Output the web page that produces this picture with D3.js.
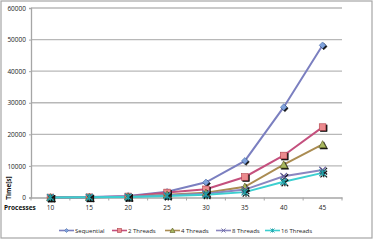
<!DOCTYPE html>
<html>
<head>
<meta charset="utf-8">
<script src="https://cdn.jsdelivr.net/npm/d3@7"></script>
<style>
body { margin: 0; background: #fff; }
svg text { font-family: "Open Sans", "Liberation Sans", sans-serif; }
</style>
</head>
<body>
<svg id="chart" width="374" height="241"></svg>
<script>
// chart data
var processes = ["10", "15", "20", "25", "30", "35", "40", "45"];
var sequential = [50, 150, 500, 1800, 4800, 11600, 28600, 48200];
var threads2 = [30, 100, 350, 1600, 2600, 6500, 13300, 22300];
var threads4 = [20, 80, 250, 900, 1500, 3400, 10400, 16800];
var threads8 = [20, 60, 200, 700, 1200, 2500, 6700, 8700];
var threads16 = [10, 50, 150, 500, 900, 1700, 5000, 7800];
var yTicks = [0, 10000, 20000, 30000, 40000, 50000, 60000];

var series = [
    {name: "Sequential", values: sequential, line: "#7b7fc0", fill: "#7fa2dc", stroke: "#4f6fa8", marker: "diamond"},
    {name: "2 Threads", values: threads2, line: "#c4507e", fill: "#ec8a8e", stroke: "#b0404a", marker: "square"},
    {name: "4 Threads", values: threads4, line: "#aa8c52", fill: "#a8b860", stroke: "#5a5a20", marker: "triangle"},
    {name: "8 Threads", values: threads8, line: "#8a86c0", fill: "#8a86c0", stroke: "#6a66a0", marker: "x"},
    {name: "16 Threads", values: threads16, line: "#3ccfd0", fill: "#3ccfd0", stroke: "#20a0a8", marker: "star"}
];

var svg = d3.select("#chart");
var plotLeft = 31, plotRight = 342, plotTop = 8, plotBottom = 197.5;

// outer frame
svg.append("rect")
    .attr("x", 1).attr("y", 1).attr("width", 371).attr("height", 237)
    .attr("fill", "none").attr("stroke", "#a6a6a6").attr("stroke-width", 1.2);

var xScale = d3.scaleBand().domain(processes).range([plotLeft, plotRight]);
var yScale = d3.scaleLinear().domain([0, 60000]).range([plotBottom, plotTop]);

// gridlines
svg.append("g").selectAll("line").data(yTicks.slice(1)).enter().append("line")
    .attr("x1", plotLeft).attr("x2", plotRight)
    .attr("y1", function(d) { return yScale(d); })
    .attr("y2", function(d) { return yScale(d); })
    .attr("stroke", "#b8b8b8").attr("stroke-width", 1.3);

// y axis
var yAxis = svg.append("g").attr("transform", "translate(" + plotLeft + ",0)")
    .call(d3.axisLeft(yScale).tickValues(yTicks).tickSize(2).tickPadding(3).tickFormat(d3.format("d")));
yAxis.select(".domain").attr("stroke", "#a6a6a6").attr("stroke-width", 1.3);
yAxis.selectAll(".tick line").attr("stroke", "#a6a6a6");
yAxis.selectAll("text").attr("font-size", 6.5).attr("fill", "#222");

// x axis
var xAxis = svg.append("g").attr("transform", "translate(0," + plotBottom + ")")
    .call(d3.axisBottom(xScale).tickSize(0).tickPadding(8));
xAxis.select(".domain").attr("stroke", "#a6a6a6").attr("stroke-width", 1.3);
xAxis.selectAll("text").attr("font-size", 6.5).attr("fill", "#222");
var boundaries = processes.map(function(p) { return xScale(p); }).concat([plotRight]);
xAxis.selectAll(".bnd").data(boundaries).enter().append("line")
    .attr("x1", function(d) { return d; }).attr("x2", function(d) { return d; })
    .attr("y1", 0).attr("y2", 3)
    .attr("stroke", "#a6a6a6");

// axis titles
svg.append("text").attr("x", 4).attr("y", 210)
    .attr("font-size", 6.5).attr("font-weight", "bold").attr("fill", "#111")
    .text("Processes");
svg.append("text")
    .attr("transform", "translate(11,188) rotate(-90)")
    .attr("text-anchor", "middle")
    .attr("font-size", 6.5).attr("font-weight", "bold").attr("fill", "#111")
    .text("Time[s]");

function cx(i) { return xScale(processes[i]) + xScale.bandwidth() / 2; }

var line = d3.line()
    .x(function(d, i) { return cx(i); })
    .y(function(d) { return yScale(d); });

function drawMarker(g, type, x, y, s, shadow, r) {
    var fill = shadow ? "#111" : s.fill;
    var stroke = shadow ? "#111" : s.stroke;
    var sw = r > 2.5 ? 1.2 : 0.9;
    if (type === "diamond") {
        g.append("path").attr("d", "M" + x + "," + (y - r) + "L" + (x + r) + "," + y + "L" + x + "," + (y + r) + "L" + (x - r) + "," + y + "Z")
            .attr("fill", fill).attr("stroke", stroke).attr("stroke-width", 0.6);
    } else if (type === "square") {
        g.append("rect").attr("x", x - r).attr("y", y - r).attr("width", 2 * r).attr("height", 2 * r)
            .attr("fill", fill).attr("stroke", stroke).attr("stroke-width", 0.6);
    } else if (type === "triangle") {
        g.append("path").attr("d", "M" + x + "," + (y - r - 0.5) + "L" + (x + r + 0.5) + "," + (y + r) + "L" + (x - r - 0.5) + "," + (y + r) + "Z")
            .attr("fill", fill).attr("stroke", stroke).attr("stroke-width", 0.6);
    } else if (type === "x") {
        g.append("path").attr("d", "M" + (x - r) + "," + (y - r) + "L" + (x + r) + "," + (y + r) + "M" + (x + r) + "," + (y - r) + "L" + (x - r) + "," + (y + r))
            .attr("stroke", stroke).attr("stroke-width", sw);
    } else {
        g.append("path").attr("d", "M" + (x - r) + "," + (y - r) + "L" + (x + r) + "," + (y + r) + "M" + (x + r) + "," + (y - r) + "L" + (x - r) + "," + (y + r) + "M" + x + "," + (y - r) + "L" + x + "," + (y + r))
            .attr("stroke", stroke).attr("stroke-width", sw);
    }
}

var plot = svg.append("g");
series.forEach(function(s) {
    plot.append("path")
        .attr("d", line(s.values))
        .attr("fill", "none")
        .attr("stroke", s.line)
        .attr("stroke-width", 2);
});
series.forEach(function(s) {
    var g = plot.append("g");
    s.values.forEach(function(v, i) {
        drawMarker(g, s.marker, cx(i) + 1.2, yScale(v) + 1.2, s, true, 3.3);
        drawMarker(g, s.marker, cx(i), yScale(v), s, false, 3.3);
    });
});

// legend
var legendX = [59, 112, 165, 216, 265];
var legend = svg.append("g");
series.forEach(function(s, i) {
    var x0 = legendX[i], y0 = 230.5;
    legend.append("line").attr("x1", x0).attr("x2", x0 + 15).attr("y1", y0).attr("y2", y0)
        .attr("stroke", s.line).attr("stroke-width", 1.6);
    var g = legend.append("g");
    drawMarker(g, s.marker, x0 + 7.5, y0, s, false, 2);
    legend.append("text").attr("x", x0 + 16).attr("y", y0 + 2.2)
        .attr("font-size", 6).attr("fill", "#222")
        .text(s.name);
});
</script>
</body>
</html>
